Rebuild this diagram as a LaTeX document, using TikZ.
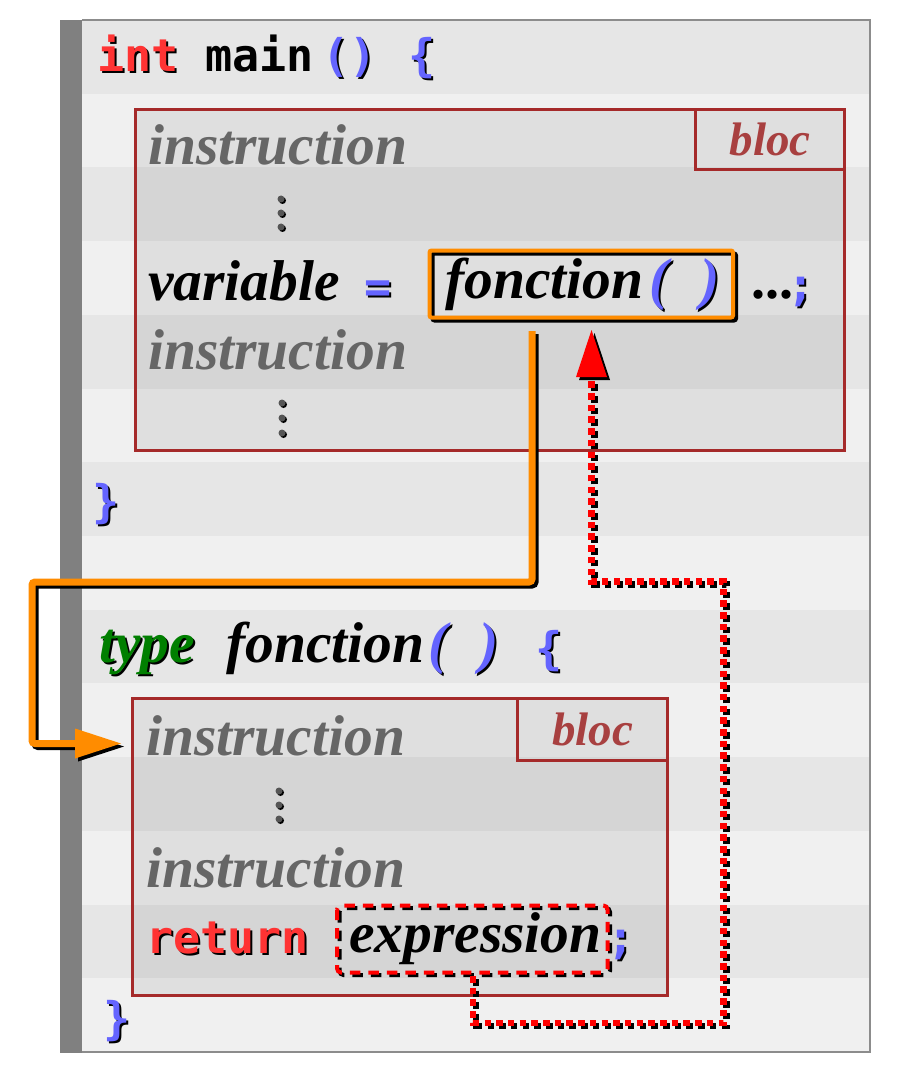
\documentclass[tikz,border=0pt]{standalone}
\usepackage{fontspec}
\setmainfont{Liberation Serif}
\newfontfamily\codefont{DejaVu Sans Mono}
\usetikzlibrary{calc}
\definecolor{kwred}{HTML}{FF3333}
\definecolor{pblue}{HTML}{6464FF}
\definecolor{typegreen}{HTML}{007F00}
\definecolor{instrgray}{HTML}{666666}
\definecolor{blocred}{HTML}{A52A2A}
\definecolor{bloctext}{HTML}{A84040}
\definecolor{arrorange}{HTML}{FF8C00}
\definecolor{arrred}{HTML}{FF0000}
\definecolor{stripeA}{HTML}{E6E6E6}
\definecolor{stripeB}{HTML}{F0F0F0}
\definecolor{bargray}{HTML}{808080}
\definecolor{framegray}{HTML}{8C8C8C}
\definecolor{dotgray}{HTML}{555555}
\newcommand\shd[2]{\makebox[0pt][l]{\hspace*{2pt}\raisebox{-2pt}{\color{black}#2}}{\color{#1}#2}}
\tikzset{
  txt/.style={inner sep=0pt, anchor=base west},
  ital/.style={txt, font=\fontsize{57.5}{60}\selectfont\bfseries\itshape},
  upb/.style={txt, font=\fontsize{56}{60}\selectfont\bfseries},
  code/.style={txt, font=\fontsize{45}{50}\selectfont\codefont\bfseries},
  instr/.style={ital, text=instrgray},
  blocbox/.style={draw=blocred, line width=3.2pt, fill=black, fill opacity=0.07, draw opacity=1, inner sep=0pt, anchor=north west},
  bloclabel/.style={draw=blocred, line width=3.2pt, inner sep=0pt, anchor=north east, text=bloctext, font=\fontsize{47}{50}\selectfont\bfseries\itshape},
  orangeline/.style={line width=7pt, rounded corners=3pt},
  redline/.style={line width=6.5pt, dash pattern=on 6.5pt off 5.2pt},
  exprbox/.style={line width=4pt, dash pattern=on 10.5pt off 8pt, rounded corners=4pt},
  shadowed/.style={transform canvas={shift={(3,3)}}},
}
\begin{document}
\begin{tikzpicture}[x=1pt,y=-1pt]
\useasboundingbox (0,0) rectangle (904,1075);
\fill[white] (0,0) rectangle (904,1075);
% stripes
\foreach \i in {0,...,13}{
  \pgfmathsetmacro\ya{20+\i*73.714}
  \pgfmathsetmacro\yb{20+(\i+1)*73.714}
  \ifodd\i \def\sc{stripeB}\else\def\sc{stripeA}\fi
  \fill[\sc] (82,\ya) rectangle (870,\yb);
}
\fill[bargray] (60,20) rectangle (82,1053);
\draw[framegray, line width=2.5pt] (82,20) -- (870,20) -- (870,1052) -- (82,1052);

% blocs
\node[blocbox, minimum width=709pt, minimum height=341pt] (bloc1) at (134,108) {};
\node[bloclabel, minimum width=149pt, minimum height=60pt] (lab1) at (bloc1.north east) {bloc};
\node[blocbox, minimum width=535pt, minimum height=297pt] (bloc2) at (131,697) {};
\node[bloclabel, minimum width=150pt, minimum height=62pt] (lab2) at (bloc2.north east) {bloc};

% main header
\node[code] (kwint) at (97,72) {\shd{kwred}{int}};
\node[code] (mainname) at (205,72) {main};
\node[code] (mainpar) at (322,72) {\shd{pblue}{()}};
\node[code] (mainbrace) at (408,72) {\shd{pblue}{\{}};

% bloc 1
\node[instr] (ins1) at (148,165) {instruction};
\foreach \yy in {199,213,227}{
  \fill[black] (282.5,\yy+1.5) circle (3.5pt);
  \fill[dotgray] (281,\yy) circle (3.5pt);
}
\node[ital] (varname) at (148,300) {variable};
\node[code] (eq) at (364,302) {\shd{pblue}{=}};
\node[ital] (fcall) at (445,298) {fonction};
\node[ital] (fpo) at (649,298) {\shd{pblue}{(}};
\node[ital] (fpc) at (700,298) {\shd{pblue}{)}};
\node[upb] (ell) at (751,298) {...};
\node[code] (semi1) at (787,300) {\shd{pblue}{;}};
\node[instr] (ins2) at (148,369) {instruction};
\foreach \yy in {403,418,433}{
  \fill[black] (283.5,\yy+1.5) circle (3.5pt);
  \fill[dotgray] (282,\yy) circle (3.5pt);
}
\node[code] (closemain) at (92,517) {\shd{pblue}{\}}};

% fonction box
\coordinate (fnw) at (429.5,250.5);
\coordinate (fse) at (733,317.5);
\draw[black, line width=4pt, rounded corners=2pt] ($(fnw)+(3,3)$) rectangle ($(fse)+(3,3)$);
\draw[arrorange, line width=4pt, rounded corners=2pt] (fnw) rectangle (fse);

% function definition
\node[ital] (kwtype) at (99,662) {\shd{typegreen}{type}};
\node[ital] (fdef) at (226,662) {fonction};
\node[ital] (dpo) at (428,662) {\shd{pblue}{(}};
\node[ital] (dpc) at (479,662) {\shd{pblue}{)}};
\node[code] (defbrace) at (535,664) {\shd{pblue}{\{}};

% bloc 2
\node[instr] (ins3) at (146,755) {instruction};
\foreach \yy in {791,805,819}{
  \fill[black] (280.5,\yy+1.5) circle (3.5pt);
  \fill[dotgray] (279,\yy) circle (3.5pt);
}
\node[instr] (ins4) at (146,887) {instruction};
\node[code] (kwret) at (146,953) {\shd{kwred}{return}};
\node[ital] (exprtxt) at (349,952) {expression};
\node[code] (semi2) at (607,953) {\shd{pblue}{;}};
\node[code] (closedef) at (103,1034) {\shd{pblue}{\}}};

% expression box
\coordinate (enw) at (337,905.5);
\coordinate (ese) at (607.5,972.5);
\draw[black, exprbox] ($(enw)+(2.5,2.5)$) rectangle ($(ese)+(2.5,2.5)$);
\draw[arrred, exprbox] (enw) rectangle (ese);

% orange call arrow
\coordinate (o1) at (532,331);
\coordinate (o2) at (532,582);
\coordinate (o3) at (32,582);
\coordinate (o4) at (32,743.5);
\coordinate (o5) at (80,743.5);
\coordinate (otip) at (121,743.5);
\begin{scope}[shadowed]
  \draw[black, orangeline] (o1) -- (o2) -- (o3) -- (o4) -- (o5);
  \fill[black] (otip) -- ($(otip)+(-46,-15)$) -- ($(otip)+(-46,15)$) -- cycle;
\end{scope}
\draw[arrorange, orangeline] (o1) -- (o2) -- (o3) -- (o4) -- (o5);
\fill[arrorange] (otip) -- ($(otip)+(-46,-15)$) -- ($(otip)+(-46,15)$) -- cycle;

% red return arrow
\coordinate (r1) at (473,976);
\coordinate (r2) at (473,1023);
\coordinate (r3) at (723.5,1023);
\coordinate (r4) at (723.5,581.5);
\coordinate (r5) at (591.5,581.5);
\coordinate (r6) at (591.5,377);
\coordinate (rtip) at (591.5,330);
\begin{scope}[shadowed]
  \draw[black, redline] (r1) -- (r2) -- (r3) -- (r4) -- (r5) -- (r6);
  \fill[black] (rtip) -- ($(rtip)+(-15.5,47)$) -- ($(rtip)+(15.5,47)$) -- cycle;
\end{scope}
\draw[arrred, redline] (r1) -- (r2) -- (r3) -- (r4) -- (r5) -- (r6);
\fill[arrred] (rtip) -- ($(rtip)+(-15.5,47)$) -- ($(rtip)+(15.5,47)$) -- cycle;
\end{tikzpicture}
\end{document}
